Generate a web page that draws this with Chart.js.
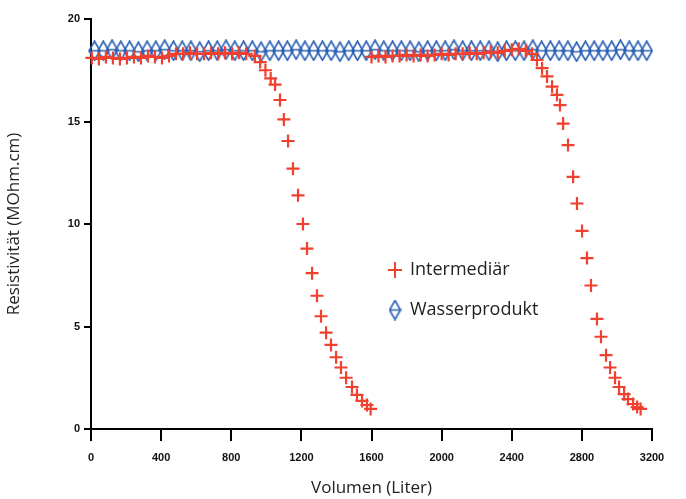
<!DOCTYPE html>
<html lang="de">
<head>
<meta charset="UTF-8" />
<title>Resistivität</title>
<style>
  body { margin: 0; background: #fff; }
  #chart { display: block; }
</style>
</head>
<body>
<canvas id="chart" width="686" height="499"></canvas>
<script src="https://cdn.jsdelivr.net/npm/chart.js@4.4.0/dist/chart.umd.min.js"></script>
<script>
  // Intermediär: two loading cycles (flat part, then breakthrough)
  let interX = [
    5, 45, 85, 125, 165, 205, 245, 285, 325, 365, 405, 445, 485, 525, 565, 605, 645, 685, 725, 765, 805, 845, 885,
    935, 965, 995, 1025, 1050, 1078, 1100, 1124, 1152, 1181, 1209, 1232, 1261, 1289, 1312, 1341, 1369, 1398, 1426, 1455, 1489, 1517, 1546, 1574, 1595,
    1600, 1640, 1680, 1720, 1760, 1800, 1840, 1880, 1920, 1960, 2000, 2040, 2080, 2120, 2160, 2200, 2240, 2280, 2320, 2360, 2400, 2440, 2480,
    2516, 2544, 2573, 2601, 2630, 2658, 2675, 2693, 2721, 2750, 2772, 2801, 2829, 2852, 2886, 2909, 2938, 2961, 2989, 3012, 3041, 3063, 3092, 3115, 3135
  ];
  let interY = [
    18.1, 18.05, 18.15, 18.1, 18.05, 18.1, 18.15, 18.1, 18.2, 18.15, 18.1, 18.2, 18.3, 18.3, 18.35, 18.3, 18.3, 18.35, 18.3, 18.35, 18.3, 18.35, 18.3,
    18.2, 17.9, 17.5, 17.1, 16.8, 16.05, 15.1, 14.05, 12.7, 11.4, 10.0, 8.8, 7.6, 6.5, 5.5, 4.7, 4.1, 3.5, 3.0, 2.5, 2.05, 1.66, 1.37, 1.17, 0.98,
    18.15, 18.2, 18.15, 18.2, 18.2, 18.25, 18.2, 18.25, 18.2, 18.25, 18.3, 18.25, 18.3, 18.3, 18.35, 18.3, 18.35, 18.4, 18.35, 18.45, 18.5, 18.55, 18.45,
    18.3, 18.0, 17.6, 17.2, 16.7, 16.3, 15.8, 14.9, 13.85, 12.3, 11.0, 9.66, 8.34, 7.0, 5.37, 4.5, 3.6, 3.0, 2.5, 2.05, 1.7, 1.46, 1.22, 1.07, 0.98
  ];

  // Wasserprodukt: stays flat
  let prodX = [
    20, 70, 120, 170, 220, 270, 320, 370, 420, 470, 520, 570, 620, 670, 720, 770,
    820, 870, 920, 970, 1020, 1070, 1120, 1170, 1220, 1270, 1320, 1370, 1420, 1470, 1520, 1570,
    1620, 1670, 1720, 1770, 1820, 1870, 1920, 1970, 2020, 2070, 2120, 2170, 2220, 2270, 2320, 2370,
    2420, 2470, 2520, 2570, 2620, 2670, 2720, 2770, 2820, 2870, 2920, 2970, 3020, 3070, 3120, 3170
  ];
  let prodY = [
    18.45, 18.45, 18.5, 18.45, 18.45, 18.4, 18.45, 18.45, 18.5, 18.45, 18.45, 18.45, 18.4, 18.45, 18.45, 18.5,
    18.45, 18.45, 18.45, 18.4, 18.45, 18.45, 18.45, 18.5, 18.45, 18.45, 18.45, 18.45, 18.4, 18.45, 18.45, 18.45,
    18.5, 18.45, 18.45, 18.45, 18.45, 18.4, 18.45, 18.45, 18.45, 18.5, 18.45, 18.45, 18.45, 18.45, 18.4, 18.45,
    18.45, 18.45, 18.5, 18.45, 18.45, 18.45, 18.45, 18.4, 18.45, 18.45, 18.45, 18.45, 18.5, 18.45, 18.45, 18.45
  ];

  let xTicks = [0, 400, 800, 1200, 1600, 2000, 2400, 2800, 3200];
  let yTicks = [0, 5, 10, 15, 20];

  const RED = '#f0402f';
  const BLUE = '#2a5fb3';

  function toPoints(xs, ys) {
    return xs.map((x, i) => ({ x: x, y: ys[i] }));
  }

  // tall diamond with a bar through the middle
  let diamond = document.createElement('canvas');
  diamond.width = 13;
  diamond.height = 21;
  let dc = diamond.getContext('2d');
  dc.strokeStyle = BLUE;
  dc.lineWidth = 1.6;
  dc.beginPath();
  dc.moveTo(6.5, 1);
  dc.lineTo(12, 10.5);
  dc.lineTo(6.5, 20);
  dc.lineTo(1, 10.5);
  dc.closePath();
  dc.moveTo(1, 10.5);
  dc.lineTo(12, 10.5);
  dc.stroke();

  // legend sits inside the plot
  const legendInside = {
    id: 'legendInside',
    afterDatasetsDraw(chart) {
      const ctx = chart.ctx;
      const a = chart.chartArea;
      const x0 = a.left + 304;
      const y0 = a.top + 251;
      ctx.save();
      ctx.strokeStyle = RED;
      ctx.lineWidth = 2;
      ctx.beginPath();
      ctx.moveTo(x0 - 7, y0);
      ctx.lineTo(x0 + 7, y0);
      ctx.moveTo(x0, y0 - 8);
      ctx.lineTo(x0, y0 + 8);
      ctx.stroke();
      ctx.drawImage(diamond, x0 - 6.5, y0 + 40 - 10.5);
      ctx.font = '18px "Open Sans"';
      ctx.fillStyle = '#222';
      ctx.textBaseline = 'middle';
      ctx.fillText(chart.data.datasets[0].label, x0 + 15, y0);
      ctx.fillText(chart.data.datasets[1].label, x0 + 15, y0 + 40);
      ctx.restore();
    }
  };

  const tickFont = { family: '"Liberation Sans", Arial, sans-serif', size: 11, weight: 'bold' };
  const titleFont = { family: '"Open Sans", sans-serif', size: 17 };

  new Chart(document.getElementById('chart'), {
    type: 'scatter',
    data: {
      datasets: [
        {
          label: 'Intermediär',
          data: toPoints(interX, interY),
          pointStyle: 'cross',
          pointRadius: 6.5,
          pointBorderWidth: 2.2,
          borderColor: RED,
          backgroundColor: RED,
          clip: false,
          order: 0,
        },
        {
          label: 'Wasserprodukt',
          data: toPoints(prodX, prodY),
          pointStyle: diamond,
          borderColor: BLUE,
          backgroundColor: BLUE,
          clip: false,
          order: 1,
        },
      ],
    },
    options: {
      responsive: false,
      animation: false,
      layout: { padding: { top: 19, right: 34, left: 0, bottom: 0 } },
      plugins: {
        legend: { display: false },
        tooltip: { enabled: false },
      },
      scales: {
        x: {
          type: 'linear',
          min: 0,
          max: 3200,
          afterBuildTicks: (s) => { s.ticks = xTicks.map((v) => ({ value: v })); },
          afterFit: (s) => { s.height = 70; },
          border: { display: true, color: '#000', width: 2 },
          grid: { drawOnChartArea: false, drawTicks: true, tickLength: 12, color: '#000', lineWidth: 2 },
          ticks: { color: '#111', font: tickFont, padding: 10, maxRotation: 0, callback: (v) => String(v) },
          title: { display: true, text: 'Volumen (Liter)', color: '#222', font: titleFont, padding: { top: 0, bottom: 1 } },
        },
        y: {
          min: 0,
          max: 20,
          afterBuildTicks: (s) => { s.ticks = yTicks.map((v) => ({ value: v })); },
          afterFit: (s) => { s.width = 91; },
          border: { display: true, color: '#000', width: 2 },
          grid: { drawOnChartArea: false, drawTicks: true, tickLength: 7, color: '#000', lineWidth: 2 },
          ticks: { color: '#111', font: tickFont, padding: 4, callback: (v) => String(v) },
          title: { display: true, text: 'Resistivität (MOhm.cm)', color: '#222', font: titleFont, padding: { top: 4, bottom: 0 } },
        },
      },
    },
    plugins: [legendInside],
  });
</script>
</body>
</html>
